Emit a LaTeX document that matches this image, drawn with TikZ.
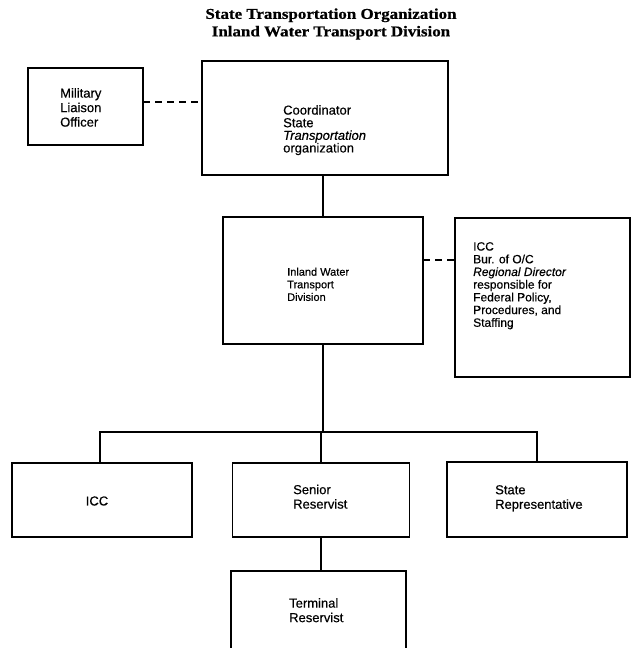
\documentclass[tikz,border=0pt]{standalone}
\usepackage{fontspec}
\usepackage{graphicx}
\setmainfont[FakeBold=0.4]{Liberation Sans}
\newfontfamily\titlefont[FakeBold=0.6]{Liberation Serif}
\begin{document}
\begin{tikzpicture}[x=1pt,y=-1pt,
  box/.style={draw,line width=1.6pt,inner sep=0pt},
  lbl/.style={inner sep=0pt,align=left,anchor=north west},
  link/.style={line width=1.6pt},
  dashlink/.style={line width=1.6pt,dash pattern=on 7pt off 5pt},
  big/.style={font=\fontsize{13}{13.5}\selectfont},
  titl/.style={font=\titlefont\bfseries\fontsize{15}{17.5}\selectfont,align=center,inner sep=0pt}]
\clip (0,0) rectangle (631,648);
% title
\node[titl] (title) at (331,24) {\scalebox{1.13}[1]{State Transportation Organization}\\\scalebox{1.13}[1]{Inland Water Transport Division}};
% boxes
\node[box,minimum width=115pt,minimum height=77pt] (mil) at (85.5,106.5) {};
\node[box,minimum width=246pt,minimum height=114pt] (coord) at (325,118) {};
\node[box,minimum width=200pt,minimum height=127pt] (iwt) at (323,280.5) {};
\node[box,minimum width=175pt,minimum height=159pt] (rbox) at (542.5,297.5) {};
\node[box,minimum width=180pt,minimum height=74pt] (icc) at (102,500) {};
\node[box,minimum width=177pt,minimum height=74pt] (senior) at (321,500) {};
\node[box,minimum width=180pt,minimum height=75pt] (staterep) at (537,499.5) {};
\node[box,minimum width=175pt,minimum height=84pt] (term) at (318.5,613) {};
% texts
\node[lbl,font=\fontsize{13}{14.5}\selectfont] (milt) at (60,88) {Military\\Liaison\\Officer};
\node[lbl,font=\fontsize{13}{12.6}\selectfont] (coordt) at (283,105) {Coordinator\\State\\\textit{Transportation}\\organization};
\node[lbl,font=\fontsize{11}{12.6}\selectfont] (iwtt) at (287,267.5) {Inland Water\\Transport\\Division};
\node[lbl,font=\fontsize{12}{12.7}\selectfont] (rboxt) at (473,242) {ICC\\Bur. of O/C\\\textit{Regional Director}\\responsible for\\Federal Policy,\\Procedures, and\\Staffing};
\node[big,inner sep=0pt] (icct) at (97,501) {ICC};
\node[lbl,font=\fontsize{13}{14.5}\selectfont] (seniort) at (293,484.5) {Senior\\Reservist};
\node[lbl,font=\fontsize{13}{14.5}\selectfont] (statet) at (495,485) {State\\Representative};
\node[lbl,font=\fontsize{13}{14.5}\selectfont] (termt) at (289,598) {Terminal\\Reservist};
% connectors
\coordinate (d1) at (143,102);
\draw[dashlink] (d1) -- (d1 -| coord.west);
\coordinate (d2) at (423,260);
\draw[dashlink] (d2) -- (d2 -| rbox.west);
\draw[link] (iwt.north) -- (iwt.north |- coord.south);
\coordinate (bus) at (321,432);
\draw[link] (iwt.south) -- (iwt.south |- bus);
\draw[link] ([xshift=-2pt]icc.north) -- ([xshift=-2pt]icc.north |- bus) -- (staterep.north |- bus) -- (staterep.north);
\draw[link] (senior.north) -- (senior.north |- bus);
\draw[link] (senior.south) -- (senior.south |- term.north);
\end{tikzpicture}
\end{document}
